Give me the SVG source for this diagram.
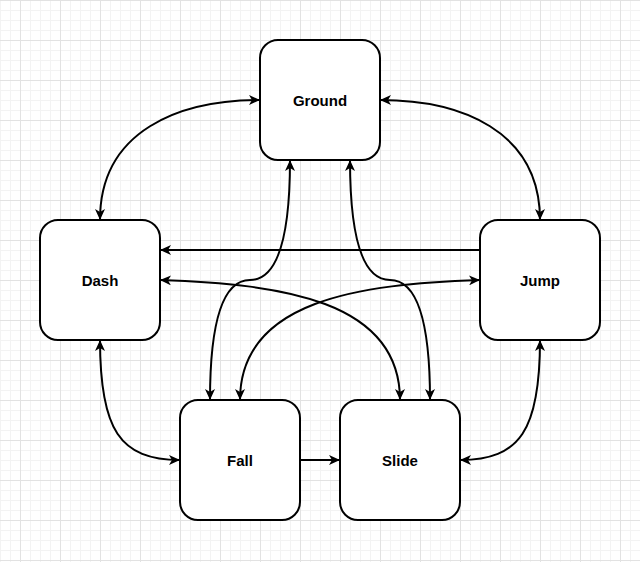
<svg xmlns="http://www.w3.org/2000/svg" width="640" height="562" viewBox="0 0 640 562">
  <defs>
    <pattern id="minor" x="0" y="0" width="10" height="10" patternUnits="userSpaceOnUse">
      <rect x="0" y="0" width="1" height="10" fill="#f3f3f3"/>
      <rect x="0" y="0" width="10" height="1" fill="#f3f3f3"/>
    </pattern>
    <pattern id="major" x="20" y="0" width="40" height="40" patternUnits="userSpaceOnUse">
      <rect x="0" y="0" width="1" height="40" fill="#e2e2e2"/>
      <rect x="0" y="0" width="40" height="1" fill="#e2e2e2"/>
    </pattern>
    <marker id="arrow" viewBox="0 0 11 10" refX="11" refY="5" markerWidth="11" markerHeight="10" markerUnits="userSpaceOnUse" orient="auto-start-reverse">
      <path d="M0,0 L11,5 L0,10 L3,5 Z" fill="#000"/>
    </marker>
    <style>
      .node rect { fill: #ffffff; stroke: #000000; stroke-width: 2; }
      .node text { font-family: "Liberation Sans", Arial, Helvetica, sans-serif; font-size: 15px; font-weight: bold; fill: #000000; text-anchor: middle; }
      .edge { fill: none; stroke: #000000; stroke-width: 2; }
      .both { marker-start: url(#arrow); marker-end: url(#arrow); }
      .one { marker-end: url(#arrow); }
    </style>
  </defs>

  <rect x="0" y="0" width="640" height="562" fill="#ffffff"/>
  <rect x="0" y="0" width="640" height="562" fill="url(#minor)"/>
  <rect x="0" y="0" width="640" height="562" fill="url(#major)"/>

  <g id="nodes">
    <g id="ground" class="node">
      <rect x="260" y="40" width="120" height="120" rx="18" ry="18"/>
      <text x="320" y="105.5">Ground</text>
    </g>
    <g id="dash" class="node">
      <rect x="40" y="220" width="120" height="120" rx="18" ry="18"/>
      <text x="100" y="285.5">Dash</text>
    </g>
    <g id="jump" class="node">
      <rect x="480" y="220" width="120" height="120" rx="18" ry="18"/>
      <text x="540" y="285.5">Jump</text>
    </g>
    <g id="fall" class="node">
      <rect x="180" y="400" width="120" height="120" rx="18" ry="18"/>
      <text x="240" y="465.5">Fall</text>
    </g>
    <g id="slide" class="node">
      <rect x="340" y="400" width="120" height="120" rx="18" ry="18"/>
      <text x="400" y="465.5">Slide</text>
    </g>
  </g>

  <g id="connectors">
    <!-- Ground <-> Dash -->
    <path class="edge both" d="M100,220 C100,130 180,100 260,100"/>
    <!-- Ground <-> Jump -->
    <path class="edge both" d="M380,100 C460,100 540,130 540,220"/>
    <!-- Jump -> Dash -->
    <path class="edge one" d="M480,250 L160,250"/>
    <!-- Dash <-> Slide -->
    <path class="edge both" d="M160,280 C280,284 400,300 400,400"/>
    <!-- Jump <-> Fall -->
    <path class="edge both" d="M480,280 C360,284 240,300 240,400"/>
    <!-- Ground <-> Fall -->
    <path class="edge both" d="M290,160 Q290,280 250,280 Q210,280 210,400"/>
    <!-- Ground <-> Slide -->
    <path class="edge both" d="M350,160 Q350,280 390,280 Q430,280 430,400"/>
    <!-- Dash <-> Fall -->
    <path class="edge both" d="M100,340 C100,430 120,460 180,460"/>
    <!-- Jump <-> Slide -->
    <path class="edge both" d="M540,340 C540,430 520,460 460,460"/>
    <!-- Fall -> Slide -->
    <path class="edge one" d="M300,460 L340,460"/>
  </g>
</svg>
